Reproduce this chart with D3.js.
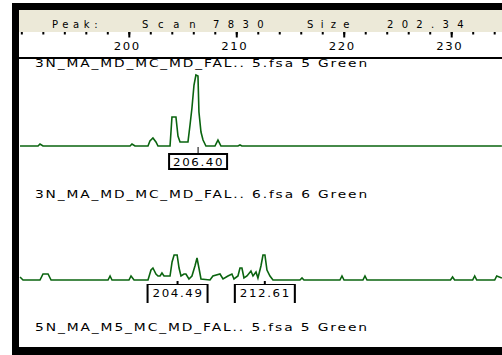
<!DOCTYPE html>
<html>
<head>
<meta charset="utf-8">
<script src="https://cdn.jsdelivr.net/npm/d3@7"></script>
<style>
    html, body { margin: 0; padding: 0; background: #fff; overflow: hidden; }
    text { font-family: 'DejaVu Sans', sans-serif; fill: #000; letter-spacing: 1.5px; }
</style>
</head>
<body>
<div id="chart"></div>
<script>
// size axis (bp)
const sizeTicks = [200, 210, 220, 230]
const sizeTickLabels = ["200", "210", "220", "230"]

// header words: "Peak:  Scan 7830   Size 202.34"
const headerWords = ["Peak:", "Scan", "7830", "Size", "202.34"]

const sampleNames = [
    "3N_MA_MD_MC_MD_FAL.. 5.fsa  5 Green",
    "3N_MA_MD_MC_MD_FAL.. 6.fsa  6 Green",
    "5N_MA_M5_MC_MD_FAL.. 5.fsa  5 Green"
]

// sample 1 trace (size bp, rfu)
const sample1Size = [189.83, 191.51, 191.69, 191.97, 200.07, 200.25, 200.53, 201.74, 201.92, 202.20,
    202.48, 202.67, 203.79, 203.97, 204.34, 204.53, 204.72, 205.46, 205.65, 205.83,
    206.02, 206.20, 206.39, 206.48, 206.67, 206.86, 207.13, 207.97, 208.25, 208.53,
    210.11, 210.30, 210.48, 234.67]
const sample1Rfu = [0, 0, 28, 0, 0, 28, 0, 0, 69, 111,
    56, 0, 0, 403, 403, 139, 56, 56, 292, 528,
    847, 986, 972, 472, 194, 83, 0, 0, 83, 0,
    0, 14, 0, 0]
const sample1Peaks = ["206.40"]

// sample 2 trace (size bp, rfu)
const sample2Size = [189.83, 190.11, 191.69, 191.97, 192.44, 192.72, 198.02, 198.21, 198.39, 199.97,
    200.16, 200.44, 201.74, 202.02, 202.20, 202.48, 202.67, 202.86, 203.04, 203.23,
    203.79, 203.98, 204.17, 204.45, 204.63, 204.81, 205.09, 205.27, 205.55, 205.83,
    206.11, 206.30, 206.48, 206.67, 207.51, 207.78, 208.44, 208.72, 209.18, 209.55,
    209.74, 210.11, 210.30, 210.48, 210.67, 210.95, 211.32, 211.51, 211.79, 211.97,
    212.25, 212.44, 212.62, 212.81, 213.09, 213.37, 215.88, 216.07, 216.25, 219.60,
    219.79, 219.98, 221.74, 221.93, 222.12, 229.89, 230.08, 230.27, 231.95, 232.14,
    232.33, 234.00, 234.19, 234.67]
const sample2Rfu = [120, 0, 0, 240, 240, 0, 0, 160, 0, 0,
    160, 0, 0, 400, 480, 240, 160, 160, 280, 160,
    160, 720, 1000, 1000, 480, 160, 240, 240, 40, 160,
    560, 880, 480, 40, 0, 160, 240, 40, 160, 240,
    40, 160, 480, 480, 80, 160, 360, 160, 320, 80,
    560, 1000, 1000, 400, 160, 0, 0, 80, 0, 0,
    160, 0, 0, 160, 0, 0, 120, 0, 0, 160,
    0, 0, 160, 80]
const sample2Peaks = ["204.49", "212.61"]

const drawChart = () => {
    var width = 502,
        height = 355;

    var svg = d3.select('#chart')
        .append('svg')
        .attr("width", width)
        .attr("height", height)

    let x = d3.scaleLinear().domain([200, 230]).range([129.3, 451.7])
    let y1 = d3.scaleLinear().domain([0, 1000]).range([146, 74])
    let y2 = d3.scaleLinear().domain([0, 1000]).range([280, 255])

    // window frame
    svg.append("rect").attr("x", 12).attr("y", 3).attr("width", 500).attr("height", 352).attr("fill", "#000")
    svg.append("rect").attr("x", 19).attr("y", 10).attr("width", 490).attr("height", 337).attr("fill", "#fff")
    svg.append("rect").attr("x", 19).attr("y", 10).attr("width", 490).attr("height", 22).attr("fill", "#ece9d8")

    // header text
    let headerX = [[52, 47], [142, 55], [213, 52], [307, 44], [387, 78]]
    svg.selectAll(".hdr")
        .data(headerWords)
        .enter().append("text")
        .attr("x", (d, i) => headerX[i][0])
        .attr("y", 28)
        .attr("textLength", (d, i) => headerX[i][1])
        .attr("lengthAdjust", "spacing")
        .style("font-size", "10px")
        .text(d => d)

    // ticks
    svg.selectAll(".minor")
        .data(d3.range(190, 235, 2))
        .enter().append("line")
        .attr("x1", d => x(d)).attr("x2", d => x(d))
        .attr("y1", 32).attr("y2", 34.5)
        .attr("stroke", "#000").attr("stroke-width", 2)
    svg.selectAll(".major")
        .data(sizeTicks)
        .enter().append("line")
        .attr("x1", d => x(d)).attr("x2", d => x(d))
        .attr("y1", 32).attr("y2", 37.5)
        .attr("stroke", "#000").attr("stroke-width", 2)
    svg.selectAll(".ticklabel")
        .data(sizeTicks)
        .enter().append("text")
        .attr("x", d => x(d) - 2)
        .attr("y", 50)
        .attr("text-anchor", "middle")
        .attr("textLength", 27)
        .attr("lengthAdjust", "spacingAndGlyphs")
        .style("font-size", "11px")
        .text((d, i) => sizeTickLabels[i])

    svg.append("line").attr("x1", 19).attr("x2", 502).attr("y1", 58).attr("y2", 58)
        .attr("stroke", "#000").attr("stroke-width", 2)

    // sample names
    let nameY = [67, 198, 331]
    svg.selectAll(".name")
        .data(sampleNames)
        .enter().append("text")
        .attr("x", 35)
        .attr("y", (d, i) => nameY[i])
        .attr("textLength", 334)
        .attr("lengthAdjust", "spacingAndGlyphs")
        .style("font-size", "11px")
        .text(d => d)

    // traces
    let line1 = d3.line().x(d => x(d[0])).y(d => y1(d[1]))
    let line2 = d3.line().x(d => x(d[0])).y(d => y2(d[1]))
    svg.append("path")
        .datum(d3.zip(sample1Size, sample1Rfu))
        .attr("d", line1)
        .attr("fill", "none").attr("stroke", "#0a640f").attr("stroke-width", 1.6)
    svg.append("path")
        .datum(d3.zip(sample2Size, sample2Rfu))
        .attr("d", line2)
        .attr("fill", "none").attr("stroke", "#0a640f").attr("stroke-width", 1.6)

    // peak labels, sample 1: closed box
    let g1 = svg.selectAll(".peak1")
        .data(sample1Peaks)
        .enter().append("g")
    g1.append("line")
        .attr("x1", d => x(+d)).attr("x2", d => x(+d))
        .attr("y1", 147).attr("y2", 153)
        .attr("stroke", "#000").attr("stroke-width", 1)
    g1.append("rect")
        .attr("x", d => x(+d) - 29).attr("y", 154)
        .attr("width", 58).attr("height", 15)
        .attr("fill", "#fff").attr("stroke", "#000").attr("stroke-width", 2)
    g1.append("text")
        .attr("x", d => x(+d) - 25).attr("y", 166)
        .attr("textLength", 51).attr("lengthAdjust", "spacingAndGlyphs")
        .style("font-size", "11px")
        .text(d => d)

    // peak labels, sample 2: open bottom
    let g2 = svg.selectAll(".peak2")
        .data(sample2Peaks)
        .enter().append("g")
    g2.append("line")
        .attr("x1", d => x(+d)).attr("x2", d => x(+d))
        .attr("y1", 281).attr("y2", 284)
        .attr("stroke", "#000").attr("stroke-width", 2)
    g2.append("path")
        .attr("d", d => {
            let cx = x(+d)
            return "M" + (cx - 30) + ",303V284.5H" + (cx + 30) + "V303"
        })
        .attr("fill", "none").attr("stroke", "#000").attr("stroke-width", 1)
    g2.append("line")
        .attr("x1", d => x(+d) - 30).attr("x2", d => x(+d) - 30)
        .attr("y1", 284).attr("y2", 303)
        .attr("stroke", "#000").attr("stroke-width", 2)
    g2.append("line")
        .attr("x1", d => x(+d) + 30).attr("x2", d => x(+d) + 30)
        .attr("y1", 284).attr("y2", 303)
        .attr("stroke", "#000").attr("stroke-width", 2)
    g2.append("text")
        .attr("x", d => x(+d) - 25).attr("y", 297)
        .attr("textLength", 51).attr("lengthAdjust", "spacingAndGlyphs")
        .style("font-size", "11px")
        .text(d => d)
}

drawChart()
</script>
</body>
</html>
